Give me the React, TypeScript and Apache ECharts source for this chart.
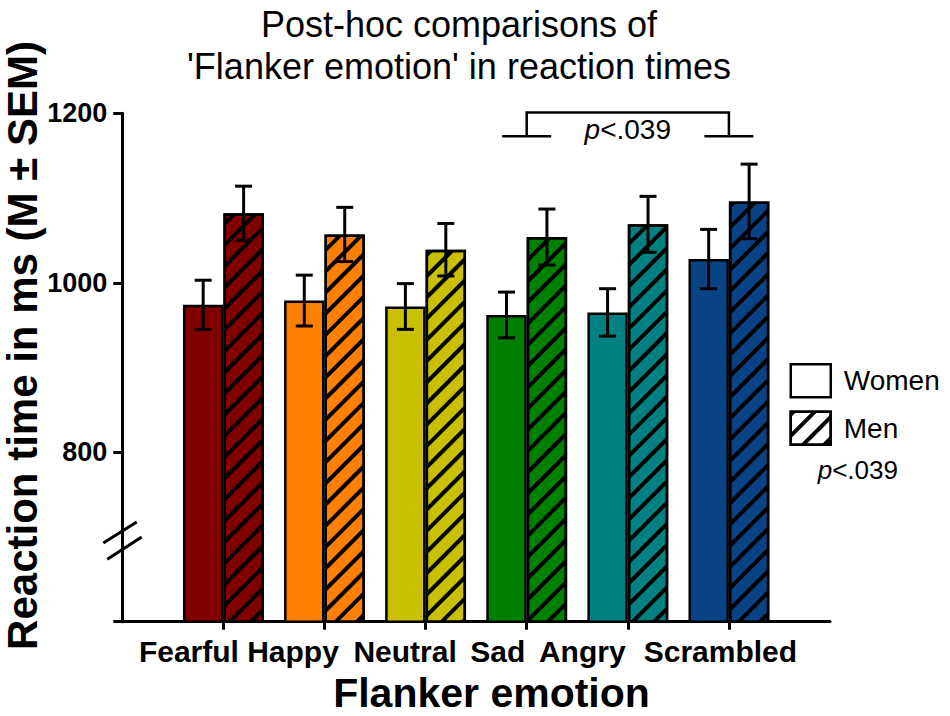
import React, { useEffect, useRef } from 'react';
import * as echarts from 'echarts';

// ---------- data ----------
const categories = ['Fearful', 'Happy', 'Neutral', 'Sad', 'Angry', 'Scrambled'];
const seriesNames = ['Women', 'Men'];
const womenMeans = [974, 979, 972, 962, 965, 1028];
const womenSem = [29, 30, 27, 27, 28, 35];
const menMeans = [1082, 1057, 1039, 1054, 1069, 1096];
const menSem = [32, 32, 31, 33, 33, 44];
const yTicks = [600, 800, 1000, 1200];
const bracketFrom = 'Sad';
const bracketTo = 'Scrambled';
const bracketValues = [1173, 1201]; // foot level, top level
const bracketLabelValue = 1181;
const pLabel = '<.039';
const titleLines = ['Post-hoc comparisons of', "'Flanker emotion' in reaction times"];
const yTitle = 'Reaction time in ms (M ± SEM)';
const xTitle = 'Flanker emotion';
const axisBreakValue = 696;

// ---------- styles ----------
const COLORS = ['#800000', '#FF8000', '#C8C000', '#008000', '#008080', '#0A4286'];
const FONT = '"Liberation Sans", Arial, Helvetica, sans-serif';
const LABEL_SHIFT_PAD = [69, 63, 41, 58, 91, 17];
const HATCH = {
  symbol: 'rect',
  symbolSize: 1,
  dashArrayX: [1, 0],
  dashArrayY: [3.5, 10.5],
  rotation: -Math.PI / 4,
  color: '#000',
};
const BAR_GAP_FRAC = 0.8;

export default function App() {
  const ref = useRef<HTMLDivElement>(null);

  useEffect(() => {
    document.body.style.margin = '0';
    if (!ref.current) return;
    const chart = echarts.init(ref.current, undefined, { renderer: 'svg' });

    const axisCats = ['', ...categories, ''];
    const xData = axisCats.map((c, i) =>
      i > 0 && i <= categories.length
        ? { value: c, textStyle: { padding: [0, LABEL_SHIFT_PAD[i - 1], 0, 0] } }
        : { value: c }
    );

    const errRender = (side: number) => (params: any, api: any) => {
      const x = api.value(0);
      const m = api.value(1);
      const s = api.value(2);
      const band = api.size([1, 0])[0];
      const off = (side * band * BAR_GAP_FRAC) / 4;
      const top = api.coord([x, m + s]);
      const bot = api.coord([x, m - s]);
      const cx = top[0] + off;
      const cap = 8.5;
      const st = { stroke: '#000', lineWidth: 3 };
      return {
        type: 'group',
        children: [
          { type: 'line', shape: { x1: cx, y1: top[1], x2: cx, y2: bot[1] }, style: st },
          { type: 'line', shape: { x1: cx - cap, y1: top[1], x2: cx + cap, y2: top[1] }, style: st },
          { type: 'line', shape: { x1: cx - cap, y1: bot[1], x2: cx + cap, y2: bot[1] }, style: st },
        ],
      };
    };

    const option: any = {
      animation: false,
      backgroundColor: '#fff',
      textStyle: { fontFamily: FONT },
      grid: { left: 122.3, right: 120, top: 113.3, bottom: 94.3, containLabel: false },
      legend: {
        orient: 'vertical',
        left: 789.5,
        top: 363,
        padding: 0,
        itemWidth: 40,
        itemHeight: 33,
        itemGap: 12,
        icon: 'rect',
        selectedMode: false,
        textStyle: { fontSize: 28, color: '#000', fontFamily: FONT, padding: [0, 0, 0, 8] },
        data: [
          { name: seriesNames[0], itemStyle: { color: '#fff', borderColor: '#000', borderWidth: 2.5 } },
          { name: seriesNames[1], itemStyle: { color: '#fff', borderColor: '#000', borderWidth: 2.5, decal: HATCH } },
        ],
      },
      xAxis: {
        type: 'category',
        data: xData,
        boundaryGap: false,
        axisLine: { lineStyle: { color: '#000', width: 3 } },
        axisTick: {
          interval: (i: number) => i > 0 && i < axisCats.length - 1,
          length: 8,
          lineStyle: { color: '#000', width: 3 },
        },
        axisLabel: {
          interval: 0,
          margin: 15,
          fontSize: 30,
          fontWeight: 'bold',
          color: '#000',
          fontFamily: FONT,
        },
        splitLine: { show: false },
      },
      yAxis: {
        type: 'value',
        min: yTicks[0],
        max: yTicks[yTicks.length - 1],
        interval: yTicks[1] - yTicks[0],
        axisLine: { show: true, lineStyle: { color: '#000', width: 3 } },
        axisTick: { show: true, length: 9, lineStyle: { color: '#000', width: 3 } },
        axisLabel: {
          formatter: (v: number) => (v === yTicks[0] ? '' : String(v)),
          margin: 15,
          fontSize: 27,
          fontWeight: 'bold',
          color: '#000',
          fontFamily: FONT,
        },
        splitLine: { show: false },
      },
      series: [
        {
          name: seriesNames[0],
          type: 'bar',
          barGap: '0%',
          barCategoryGap: `${Math.round((1 - BAR_GAP_FRAC) * 100)}%`,
          itemStyle: { borderColor: '#000', borderWidth: 2.5 },
          data: womenMeans.map((v, i) => ({ value: [i + 1, v], itemStyle: { color: COLORS[i] } })),
          z: 2,
        },
        {
          name: seriesNames[1],
          type: 'bar',
          barGap: '0%',
          barCategoryGap: `${Math.round((1 - BAR_GAP_FRAC) * 100)}%`,
          itemStyle: { borderColor: '#000', borderWidth: 2.5, decal: HATCH },
          data: menMeans.map((v, i) => ({ value: [i + 1, v], itemStyle: { color: COLORS[i] } })),
          z: 2,
        },
        {
          type: 'custom',
          name: 'Women SEM',
          renderItem: errRender(-1),
          encode: { x: 0, y: 1 },
          data: womenMeans.map((v, i) => [i + 1, v, womenSem[i]]),
          z: 5,
          silent: true,
        },
        {
          type: 'custom',
          name: 'Men SEM',
          renderItem: errRender(1),
          encode: { x: 0, y: 1 },
          data: menMeans.map((v, i) => [i + 1, v, menSem[i]]),
          z: 5,
          silent: true,
        },
      ],
    };

    chart.setOption(option);

    const px = (xi: number, v: number) => chart.convertToPixel({ gridIndex: 0 }, [xi, v]) as number[];
    const iFrom = categories.indexOf(bracketFrom) + 1;
    const iTo = categories.indexOf(bracketTo) + 1;
    const pL = px(iFrom, bracketValues[0]);
    const pLt = px(iFrom, bracketValues[1]);
    const pR = px(iTo, bracketValues[0]);
    const pText = px((iFrom + iTo) / 2, bracketLabelValue);
    const brk = px(0, axisBreakValue);
    const lineSt = { stroke: '#000', lineWidth: 2.5 };
    const foot = 24.5;
    const pRich = (size: number) => ({
      i: { fontStyle: 'italic', fontSize: size, fontFamily: FONT, fill: '#000' },
      n: { fontSize: size, fontFamily: FONT, fill: '#000' },
    });

    chart.setOption({
      graphic: [
        {
          type: 'text',
          style: {
            text: titleLines.join('\n'),
            x: 459,
            y: 3,
            align: 'center',
            verticalAlign: 'top',
            fontSize: 36,
            lineHeight: 42,
            fontFamily: FONT,
            fill: '#000',
          },
        },
        {
          type: 'text',
          x: 22,
          y: 345.5,
          rotation: Math.PI / 2,
          style: {
            text: yTitle,
            x: 0,
            y: 0,
            align: 'center',
            verticalAlign: 'middle',
            fontSize: 42,
            fontWeight: 'bold',
            fontFamily: FONT,
            fill: '#000',
          },
        },
        {
          type: 'text',
          style: {
            text: xTitle,
            x: 491.5,
            y: 693,
            align: 'center',
            verticalAlign: 'middle',
            fontSize: 41,
            fontWeight: 'bold',
            fontFamily: FONT,
            fill: '#000',
          },
        },
        {
          type: 'text',
          style: {
            text: `{i|p}{n|${pLabel}}`,
            rich: pRich(26),
            x: 817.7,
            y: 470,
            align: 'left',
            verticalAlign: 'middle',
            fontSize: 26,
            fontFamily: FONT,
            fill: '#000',
          },
        },
        // axis break marks
        {
          type: 'line',
          shape: { x1: brk[0] - 19, y1: brk[1] + 2.7, x2: brk[0] + 14.4, y2: brk[1] - 18.3 },
          style: { stroke: '#000', lineWidth: 3 },
        },
        {
          type: 'line',
          shape: { x1: brk[0] - 15, y1: brk[1] + 19, x2: brk[0] + 19.4, y2: brk[1] - 3.3 },
          style: { stroke: '#000', lineWidth: 3 },
        },
        // significance bracket
        {
          type: 'polyline',
          shape: { points: [[pL[0], pL[1]], [pL[0], pLt[1]], [pR[0], pLt[1]], [pR[0], pR[1]]] },
          style: { ...lineSt, fill: null },
        },
        { type: 'line', shape: { x1: pL[0] - foot, y1: pL[1], x2: pL[0] + foot, y2: pL[1] }, style: lineSt },
        { type: 'line', shape: { x1: pR[0] - foot, y1: pR[1], x2: pR[0] + foot, y2: pR[1] }, style: lineSt },
        {
          type: 'text',
          style: {
            text: `{i|p}{n|${pLabel}}`,
            rich: pRich(28),
            x: pText[0],
            y: pText[1],
            align: 'center',
            verticalAlign: 'middle',
            fontSize: 28,
            fontFamily: FONT,
            fill: '#000',
          },
        },
      ],
    });

    return () => chart.dispose();
  }, []);

  return <div ref={ref} style={{ width: 950, height: 716 }} />;
}
